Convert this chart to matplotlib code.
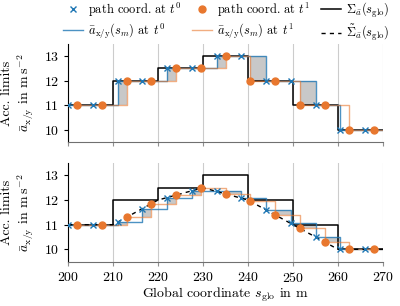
import numpy as np
import matplotlib
matplotlib.use("Agg")
import matplotlib.pyplot as plt

plt.rcParams['font.family'] = 'serif'
plt.rcParams['font.serif'] = ['cmr10']
plt.rcParams['mathtext.fontset'] = 'cm'
plt.rcParams['axes.unicode_minus'] = False
plt.rcParams['axes.formatter.use_mathtext'] = True
plt.rcParams['font.size'] = 10

# -------------------------------
# Data
# -------------------------------
s_t0 = [200, 205.5, 211, 216.5, 222, 227.5, 233, 238.5, 244, 249.5, 255, 260.5, 266]
s_t1 = [202, 207.5, 213, 218.5, 224, 229.5, 235, 240.5, 246, 251.5, 257, 262.5, 268]

# top panel: raw limits
a_t0_top = [11, 11, 12, 12, 12.5, 12.5, 13, 13, 12, 12, 11, 10, 10]
a_t1_top = [11, 11, 12, 12, 12.5, 12.5, 13, 12, 12, 11, 11, 10, 10]

# bottom panel: smoothed limits
a_t0_bot = [11, 11, 11.11, 11.65, 12.1, 12.36, 12.35, 12.07, 11.6, 11.05, 10.5, 10.03, 10]
a_t1_bot = [11, 11, 11.3, 11.85, 12.2, 12.47, 12.25, 11.95, 11.4, 10.85, 10.3, 10, 10]

# Sigma step function (segment edges and values)
sig_edges = [200, 210, 220, 230, 240, 250, 260, 270]
sig_vals = [11, 12, 12.5, 13, 12, 11, 10]

# smoothed Sigma (dashed)
sig_s_x = [200, 210, 220, 230, 240, 260, 270]
sig_s_y = [11, 11, 12, 12.5, 12, 10, 10]

s_end = 270
blue = '#1f77b4'
orange = '#e8772e'


def step_eval(xs, ys, grid):
    idx = np.searchsorted(xs, grid, side='right') - 1
    idx = np.clip(idx, 0, len(ys) - 1)
    return np.array(ys)[idx]


fig = plt.figure(figsize=(4, 3.06), dpi=100)
ax1 = fig.add_axes([0.17, 0.535, 0.7875, 0.322])
ax2 = fig.add_axes([0.17, 0.145, 0.7875, 0.322], sharex=ax1)

for ax, a0, a1, dashed in [(ax1, a_t0_top, a_t1_top, False),
                           (ax2, a_t0_bot, a_t1_bot, True)]:
    # shaded difference where t0 limit is above t1 limit
    grid = np.unique(np.concatenate([s_t0, s_t1, [s_end]]))
    grid = grid[grid >= s_t1[0]]
    b = step_eval(s_t0, a0, grid)
    o = step_eval(s_t1, a1, grid)
    ax.fill_between(grid, o, np.maximum(b, o), step='post',
                    facecolor='#c8c8c8', edgecolor='none', zorder=1)

    ax.step(sig_edges, sig_vals + [sig_vals[-1]], where='post',
            color='k', lw=1.1, zorder=2)
    ax.step(s_t0 + [s_end], a0 + [a0[-1]], where='post',
            color=blue, lw=1.0, alpha=0.8, zorder=3)
    ax.step(s_t1 + [s_end], a1 + [a1[-1]], where='post',
            color=orange, lw=1.0, alpha=0.6, zorder=3)
    if dashed:
        ax.plot(sig_s_x, sig_s_y, color='k', ls=(0, (3, 3)), lw=1.0, zorder=4)
    ax.plot(s_t0, a0, ls='none', marker='x', color=blue, ms=5, mew=1.0, zorder=5)
    ax.plot(s_t1, a1, ls='none', marker='o', color=orange, ms=5, zorder=5)

    ax.set_xlim(200, 270)
    ax.set_ylim(9.5, 13.5)
    ax.set_yticks([10, 11, 12, 13])
    ax.set_xticks(range(200, 271, 10))
    ax.grid(axis='x', color='#cccccc', lw=0.8)
    ax.set_axisbelow(True)
    for sp in ['top', 'right']:
        ax.spines[sp].set_visible(False)
    ax.spines['left'].set_color('k')
    ax.spines['bottom'].set_color('#707070')
    ax.tick_params(axis='x', color='#909090', length=3, width=0.8)
    ax.tick_params(axis='y', length=3, width=0.8)
    ax.set_ylabel('Acc. limits\n' + r'$\bar{a}_{\mathrm{x/y}}$ in $\mathrm{m\,s^{-2}}$',
                  labelpad=6)

ax1.tick_params(axis='x', labelbottom=False)
ax2.set_xlabel(r'Global coordinate $s_{\mathrm{glo}}$ in $\mathrm{m}$', labelpad=1)

# legend
h = [
    plt.Line2D([], [], ls='none', marker='x', color=blue, ms=5, mew=1.0),
    plt.Line2D([], [], color=blue, lw=1.0, alpha=0.8),
    plt.Line2D([], [], ls='none', marker='o', color=orange, ms=5),
    plt.Line2D([], [], color=orange, lw=1.0, alpha=0.6),
    plt.Line2D([], [], color='k', lw=1.1),
    plt.Line2D([], [], color='k', ls=(0, (3, 3)), lw=1.0),
]
labels = [
    r'path coord. at $t^0$',
    r'$\bar{a}_{\mathrm{x/y}}(s_m)$ at $t^0$',
    r'path coord. at $t^1$',
    r'$\bar{a}_{\mathrm{x/y}}(s_m)$ at $t^1$',
    r'$\Sigma_{\bar{a}}(s_{\mathrm{glo}})$',
    r'$\tilde{\Sigma}_{\bar{a}}(s_{\mathrm{glo}})$',
]
fig.legend(h, labels, ncol=3, loc='upper center', bbox_to_anchor=(0.565, 1.035),
           frameon=False, handlelength=1.6, columnspacing=0.8, handletextpad=0.4,
           labelspacing=0.25, prop={'size': 9})

fig.savefig('out.png', dpi=100)
